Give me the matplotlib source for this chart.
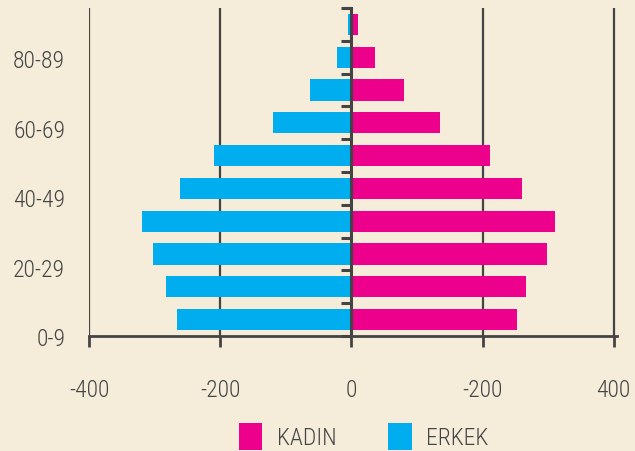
import matplotlib.pyplot as plt
import numpy as np

# yas gruplari (alttan uste)
gruplar = ['0-9', '10-19', '20-29', '30-39', '40-49',
           '50-59', '60-69', '70-79', '80-89', '90+']
erkek = [266, 283, 302, 319, 261, 209, 120, 63, 22, 5]
kadin = [252, 267, 299, 311, 260, 211, 135, 80, 36, 10]
x_ticks = [-400, -200, 0, 200, 400]
x_labels = ['-400', '-200', '0', '-200', '400']

bg = '#F5EDDA'
pembe = '#EC008C'
mavi = '#00AEEF'
koyu = '#444444'

plt.rcParams['font.family'] = ['Roboto Condensed', 'Liberation Sans Narrow', 'Roboto', 'DejaVu Sans']
plt.rcParams['font.weight'] = 'light'

fig = plt.figure(figsize=(6.35, 4.52), dpi=100, facecolor=bg)
ax = fig.add_axes([89/635, 1-337/452, (617-89)/635, (337-9)/452])
ax.set_facecolor(bg)

y = np.arange(len(gruplar))
ax.barh(y, kadin, height=0.65, color=pembe, label='KADIN', zorder=2)
ax.barh(y, -np.array(erkek), height=0.65, color=mavi, label='ERKEK', zorder=2)

ax.set_xlim(-400, 405)
ax.set_ylim(-0.5, len(gruplar) - 0.5)

# dikey cizgiler
for xt in x_ticks:
    if xt != 0:
        ax.axvline(xt, color=koyu, lw=1.6, zorder=1)

# orta eksen
ax.spines['left'].set_position(('data', 0))
ax.spines['left'].set_color(koyu)
ax.spines['left'].set_linewidth(2.2)
ax.spines['left'].set_zorder(3)
ax.spines['bottom'].set_color(koyu)
ax.spines['bottom'].set_linewidth(2)
ax.spines['top'].set_visible(False)
ax.spines['right'].set_visible(False)

ax.set_yticks(np.arange(len(gruplar) + 1) - 0.5)
ax.set_yticklabels([])
ax.tick_params(axis='y', length=7, width=2.2, color=koyu, direction='out')

ax.set_xticks(x_ticks)
ax.set_xticklabels(x_labels)
ax.tick_params(axis='x', length=8, width=2, color=koyu, labelcolor=koyu,
               labelsize=17, pad=22)

# grup etiketleri (her ikinci) - orijinalde biraz farkli aralikla
for k, g in enumerate(gruplar[0:-1:2]):
    ax.text(-0.045, k * 0.212 - 0.009, g, transform=ax.transAxes,
            ha='right', va='center', fontsize=17, color=koyu)

leg = ax.legend(loc='upper center', bbox_to_anchor=(0.52, -0.2), ncol=2,
                frameon=False, fontsize=17, handlelength=1.0, handleheight=1.4,
                columnspacing=2.2, handletextpad=0.6, labelcolor=koyu)

fig.savefig('out.png', dpi=100, facecolor=bg)
